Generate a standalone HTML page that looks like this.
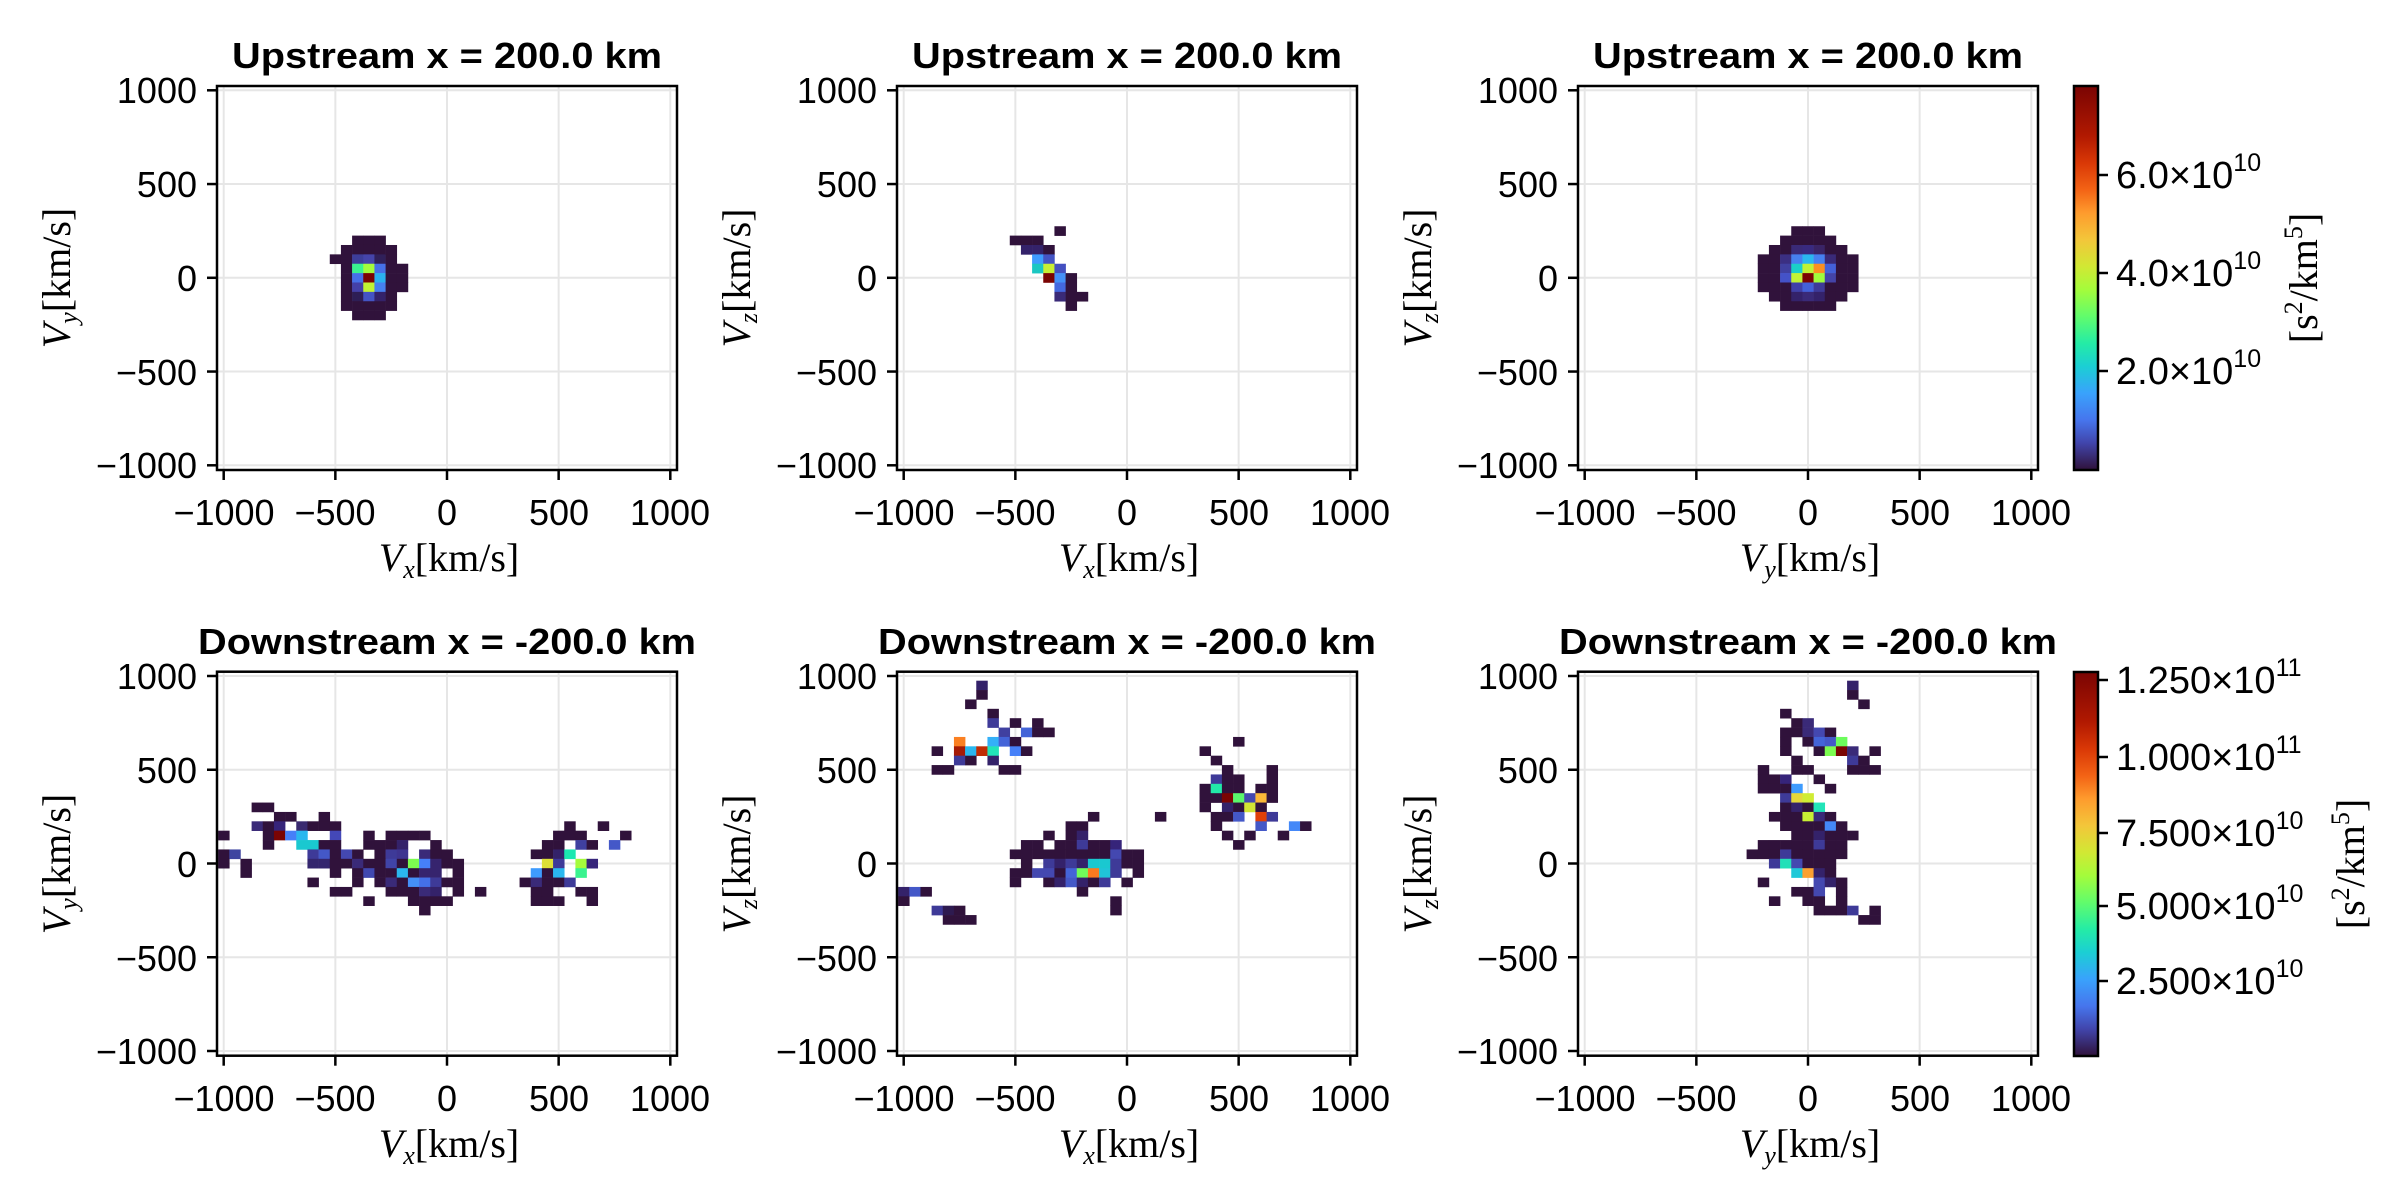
<!DOCTYPE html>
<html><head><meta charset="utf-8"><style>
html,body{margin:0;padding:0;background:#fff;}
svg{display:block;}
.t{font-family:"Liberation Sans",sans-serif;font-weight:bold;font-size:36px;text-anchor:middle;}
.tk{font-family:"Liberation Sans",sans-serif;font-size:36px;}
.yt{text-anchor:end;}
.xt{text-anchor:middle;}
.lb{font-family:"Liberation Serif",serif;font-size:40px;text-anchor:middle;}
.cb{font-family:"Liberation Sans",sans-serif;font-size:38px;}
</style></head><body>
<svg id="s" width="2400" height="1200" viewBox="0 0 2400 1200" xmlns="http://www.w3.org/2000/svg">
<defs>
<linearGradient id="turbo" x1="0" y1="1" x2="0" y2="0">
<stop offset="0" stop-color="#30123b"/><stop offset="0.07" stop-color="#4145ab"/><stop offset="0.13" stop-color="#4675ed"/><stop offset="0.2" stop-color="#39a2fc"/><stop offset="0.27" stop-color="#1bcfd4"/><stop offset="0.33" stop-color="#24eca6"/><stop offset="0.4" stop-color="#61fc6c"/><stop offset="0.47" stop-color="#a4fc3b"/><stop offset="0.53" stop-color="#d1e834"/><stop offset="0.6" stop-color="#f3c63a"/><stop offset="0.67" stop-color="#fe9b2d"/><stop offset="0.73" stop-color="#f36315"/><stop offset="0.8" stop-color="#d93806"/><stop offset="0.87" stop-color="#b11901"/><stop offset="1" stop-color="#7a0403"/>
</linearGradient>
</defs>
<g id="grid"></g>
<g id="cells"></g>
<g id="frames"></g>

<text class="t" x="447" y="68" textLength="430" lengthAdjust="spacingAndGlyphs">Upstream x = 200.0 km</text>
<text class="t" x="1127" y="68" textLength="430" lengthAdjust="spacingAndGlyphs">Upstream x = 200.0 km</text>
<text class="t" x="1808" y="68" textLength="430" lengthAdjust="spacingAndGlyphs">Upstream x = 200.0 km</text>
<text class="t" x="447" y="654" textLength="498" lengthAdjust="spacingAndGlyphs">Downstream x = -200.0 km</text>
<text class="t" x="1127" y="654" textLength="498" lengthAdjust="spacingAndGlyphs">Downstream x = -200.0 km</text>
<text class="t" x="1808" y="654" textLength="498" lengthAdjust="spacingAndGlyphs">Downstream x = -200.0 km</text>

<g class="tk yt">
<text x="197" y="103">1000</text><text x="197" y="197">500</text><text x="197" y="291">0</text><text x="197" y="385">−500</text><text x="197" y="478">−1000</text>
<text x="877" y="103">1000</text><text x="877" y="197">500</text><text x="877" y="291">0</text><text x="877" y="385">−500</text><text x="877" y="478">−1000</text>
<text x="1558" y="103">1000</text><text x="1558" y="197">500</text><text x="1558" y="291">0</text><text x="1558" y="385">−500</text><text x="1558" y="478">−1000</text>
<text x="197" y="689">1000</text><text x="197" y="783">500</text><text x="197" y="877">0</text><text x="197" y="971">−500</text><text x="197" y="1064">−1000</text>
<text x="877" y="689">1000</text><text x="877" y="783">500</text><text x="877" y="877">0</text><text x="877" y="971">−500</text><text x="877" y="1064">−1000</text>
<text x="1558" y="689">1000</text><text x="1558" y="783">500</text><text x="1558" y="877">0</text><text x="1558" y="971">−500</text><text x="1558" y="1064">−1000</text>
</g>
<g class="tk xt">
<text x="224" y="525">−1000</text><text x="335" y="525">−500</text><text x="447" y="525">0</text><text x="559" y="525">500</text><text x="670" y="525">1000</text>
<text x="904" y="525">−1000</text><text x="1015" y="525">−500</text><text x="1127" y="525">0</text><text x="1239" y="525">500</text><text x="1350" y="525">1000</text>
<text x="1585" y="525">−1000</text><text x="1696" y="525">−500</text><text x="1808" y="525">0</text><text x="1920" y="525">500</text><text x="2031" y="525">1000</text>
<text x="224" y="1111">−1000</text><text x="335" y="1111">−500</text><text x="447" y="1111">0</text><text x="559" y="1111">500</text><text x="670" y="1111">1000</text>
<text x="904" y="1111">−1000</text><text x="1015" y="1111">−500</text><text x="1127" y="1111">0</text><text x="1239" y="1111">500</text><text x="1350" y="1111">1000</text>
<text x="1585" y="1111">−1000</text><text x="1696" y="1111">−500</text><text x="1808" y="1111">0</text><text x="1920" y="1111">500</text><text x="2031" y="1111">1000</text>
</g>
<g class="lb">
<text x="449" y="571"><tspan font-style="italic">V</tspan><tspan font-style="italic" font-size="26" dy="7">x</tspan><tspan dy="-7">[km/s]</tspan></text>
<text x="1129" y="571"><tspan font-style="italic">V</tspan><tspan font-style="italic" font-size="26" dy="7">x</tspan><tspan dy="-7">[km/s]</tspan></text>
<text x="1810" y="571"><tspan font-style="italic">V</tspan><tspan font-style="italic" font-size="26" dy="7">y</tspan><tspan dy="-7">[km/s]</tspan></text>
<text x="449" y="1157"><tspan font-style="italic">V</tspan><tspan font-style="italic" font-size="26" dy="7">x</tspan><tspan dy="-7">[km/s]</tspan></text>
<text x="1129" y="1157"><tspan font-style="italic">V</tspan><tspan font-style="italic" font-size="26" dy="7">x</tspan><tspan dy="-7">[km/s]</tspan></text>
<text x="1810" y="1157"><tspan font-style="italic">V</tspan><tspan font-style="italic" font-size="26" dy="7">y</tspan><tspan dy="-7">[km/s]</tspan></text>
<text transform="translate(70,278) rotate(-90)"><tspan font-style="italic">V</tspan><tspan font-style="italic" font-size="26" dy="7">y</tspan><tspan dy="-7">[km/s]</tspan></text>
<text transform="translate(750,278) rotate(-90)"><tspan font-style="italic">V</tspan><tspan font-style="italic" font-size="26" dy="7">z</tspan><tspan dy="-7">[km/s]</tspan></text>
<text transform="translate(1431,278) rotate(-90)"><tspan font-style="italic">V</tspan><tspan font-style="italic" font-size="26" dy="7">z</tspan><tspan dy="-7">[km/s]</tspan></text>
<text transform="translate(70,864) rotate(-90)"><tspan font-style="italic">V</tspan><tspan font-style="italic" font-size="26" dy="7">y</tspan><tspan dy="-7">[km/s]</tspan></text>
<text transform="translate(750,864) rotate(-90)"><tspan font-style="italic">V</tspan><tspan font-style="italic" font-size="26" dy="7">z</tspan><tspan dy="-7">[km/s]</tspan></text>
<text transform="translate(1431,864) rotate(-90)"><tspan font-style="italic">V</tspan><tspan font-style="italic" font-size="26" dy="7">z</tspan><tspan dy="-7">[km/s]</tspan></text>
<text transform="translate(2317,278) rotate(-90)">[s<tspan font-size="26" dy="-15">2</tspan><tspan dy="15">/km</tspan><tspan font-size="26" dy="-15">5</tspan><tspan dy="15">]</tspan></text>
<text transform="translate(2364,864) rotate(-90)">[s<tspan font-size="26" dy="-15">2</tspan><tspan dy="15">/km</tspan><tspan font-size="26" dy="-15">5</tspan><tspan dy="15">]</tspan></text>
</g>

<rect x="2074" y="86" width="24" height="384" fill="url(#turbo)" stroke="#000" stroke-width="2.5"/>
<rect x="2074" y="672" width="24" height="384" fill="url(#turbo)" stroke="#000" stroke-width="2.5"/>
<g stroke="#000" stroke-width="2.5">
<line x1="2098" x2="2108" y1="175" y2="175"/><line x1="2098" x2="2108" y1="273" y2="273"/><line x1="2098" x2="2108" y1="371" y2="371"/>
<line x1="2098" x2="2108" y1="680" y2="680"/><line x1="2098" x2="2108" y1="757" y2="757"/><line x1="2098" x2="2108" y1="833" y2="833"/><line x1="2098" x2="2108" y1="906" y2="906"/><line x1="2098" x2="2108" y1="981" y2="981"/>
</g>
<g class="cb">
<text x="2116" y="188">6.0×10<tspan font-size="25" dy="-17">10</tspan></text>
<text x="2116" y="286">4.0×10<tspan font-size="25" dy="-17">10</tspan></text>
<text x="2116" y="384">2.0×10<tspan font-size="25" dy="-17">10</tspan></text>
<text x="2116" y="693">1.250×10<tspan font-size="25" dy="-17">11</tspan></text>
<text x="2116" y="770">1.000×10<tspan font-size="25" dy="-17">11</tspan></text>
<text x="2116" y="846">7.500×10<tspan font-size="25" dy="-17">10</tspan></text>
<text x="2116" y="919">5.000×10<tspan font-size="25" dy="-17">10</tspan></text>
<text x="2116" y="994">2.500×10<tspan font-size="25" dy="-17">10</tspan></text>
</g>
</svg>
<script>
(function(){
var NS="http://www.w3.org/2000/svg";
var sx=0.2233, sy=0.1875;
var P=[[447,277.8],[1127,277.8],[1808,277.8],[447,863.5],[1127,863.5],[1808,863.5]];
var D="#30123b";
function el(g,tag,a){var e=document.createElementNS(NS,tag);for(var k in a)e.setAttribute(k,a[k]);g.appendChild(e);return e;}
var grid=document.getElementById("grid"),cells=document.getElementById("cells"),fr=document.getElementById("frames");
P.forEach(function(p){
  var x0=p[0],y0=p[1],L=x0-230,T=y0-191.8,W=460,H=384;
  el(grid,"rect",{x:L,y:T,width:W,height:H,fill:"#fff"});
  [-1000,-500,0,500,1000].forEach(function(v){
    var gx=x0+v*sx, gy=y0-v*sy;
    el(grid,"line",{x1:gx,x2:gx,y1:T,y2:T+H,stroke:"#e6e6e6","stroke-width":2});
    el(grid,"line",{x1:L,x2:L+W,y1:gy,y2:gy,stroke:"#e6e6e6","stroke-width":2});
    el(fr,"line",{x1:gx,x2:gx,y1:T+H,y2:T+H+10,stroke:"#000","stroke-width":2.5});
    el(fr,"line",{x1:L-10,x2:L,y1:gy,y2:gy,stroke:"#000","stroke-width":2.5});
  });
  el(fr,"rect",{x:L,y:T,width:W,height:H,fill:"none",stroke:"#000","stroke-width":2.5});
});
var data=[
"-500,100;-450,150;-450,100;-450,50;-450,0;-450,-50;-450,-100;-450,-150;"+
"-400,200;-400,150;-400,100,#3d3e9a;-400,50,#3af38f;-400,0,#4670e8;-400,-50,#4440a8;-400,-100,#2e1e55;-400,-150;-400,-200;"+
"-350,200;-350,150;-350,100,#4544aa;-350,50,#a4fc3c;-350,0,#7a0403;-350,-50,#c1f334;-350,-100,#4454c4;-350,-150;-350,-200;"+
"-300,200;-300,150;-300,100,#30205a;-300,50,#4670e8;-300,0,#2ab0f0;-300,-50,#4680f0;-300,-100,#34226a;-300,-150;-300,-200;"+
"-250,150;-250,100;-250,50;-250,0;-250,-50;-250,-100;-250,-150;-200,50;-200,0;-200,-50",
"-300,250;-500,200;-450,200;-400,200;-450,150,#34226a;-400,150,#34226a;-350,150;-400,100,#3e9bfe;-350,100,#4454c4;"+
"-400,50,#1ac7c2;-350,50,#c8ef34;-300,50,#4450c0;-350,0,#7a0403;-300,0,#4490f8;-250,0;-300,-50,#4468e0;-250,-50;"+
"-300,-100,#3a2a78;-250,-100;-200,-100;-250,-150",
"-50,250;0,250;50,250;-100,200;-50,200;0,200;50,200;100,200;"+
"-150,150;-100,150;-50,150,#3a2a78;0,150,#392a80;50,150,#3a2466;100,150;150,150;"+
"-200,100;-150,100;-100,100,#3b2f82;-50,100,#4680f0;0,100,#2ab7ef;50,100,#4680f0;100,100,#3a2a78;150,100;200,100;"+
"-200,50;-150,50;-100,50,#4040a0;-50,50,#1ad0c8;0,50,#c1f334;50,50,#fb9020;100,50,#4460d8;150,50;200,50;"+
"-200,0;-150,0;-100,0,#4452c8;-50,0,#c1f334;0,0,#7a0403;50,0,#a0fc3c;100,0,#4444a8;150,0;200,0;"+
"-200,-50;-150,-50;-100,-50;-50,-50,#4040a8;0,-50,#4460d8;50,-50,#3e3a98;100,-50;150,-50;200,-50;"+
"-150,-100;-100,-100;-50,-100,#34226a;0,-100,#3a2a78;50,-100,#34226a;100,-100;150,-100;"+
"-100,-150;-50,-150;0,-150;50,-150;100,-150",
"-850,300;-800,300;-750,250;-700,250;-550,250;"+
"-850,200,#3a2a78;-800,200;-750,200,#36247a;-650,200,#3a2a70;-600,200;-550,200;-500,200;"+
"-1000,150;-800,150;-750,150,#7a0403;-700,150,#4680f8;-650,150,#2ab7ef;-500,150,#4448b8;-350,150;-250,150;-200,150;-150,150;-100,150;"+
"-800,100;-650,100,#1ac8d0;-600,100,#1ac8d0;-550,100;-500,100;-350,100;-300,100;-250,100;-200,100,#34226a;-50,100;"+
"-1000,50;-950,50,#3e44a0;-600,50,#3e3a98;-550,50,#4458c8;-500,50;-450,50,#4448b0;-400,50;-300,50;-250,50,#3e3a98;-200,50,#3e3490;-100,50,#3a2a78;-50,50;0,50;"+
"-1000,0;-900,0;-600,0,#34266e;-550,0,#34266e;-500,0;-450,0;-400,0,#3a2a78;-350,0;-300,0;-250,0,#4044a8;-200,0;-150,0,#7cfc50;-100,0,#4680f8;-50,0,#36246e;0,0;50,0;"+
"-900,-50;-500,-50;-400,-50;-350,-50,#4048b0;-300,-50;-250,-50;-200,-50,#2ab7ef;-150,-50;-100,-50,#36246e;-50,-50,#36246e;50,-50;"+
"-600,-100;-400,-100;-300,-100;-250,-100,#3a2a78;-200,-100;-150,-100,#4490f8;-100,-100,#4470e8;-50,-100,#3e3a98;0,-100;50,-100;"+
"-500,-150;-450,-150;-250,-150;-200,-150;-150,-150;-100,-150,#3a2a78;-50,-150,#34226a;50,-150;150,-150;"+
"-350,-200;-150,-200;-100,-200;-50,-200;0,-200;-100,-250;"+
"550,200;700,200;500,150;550,150;600,150;800,150;450,100;500,100;600,100,#4040a0;650,100;750,100,#4458c8;"+
"400,50;450,50;500,50,#34226a;550,50,#1ae8b0;450,0,#dde037;500,0,#3e3a98;600,0,#a4fc3c;650,0,#36247a;"+
"400,-50,#3e9bfe;450,-50;500,-50,#2ab7ef;600,-50,#3af38f;350,-100;400,-100,#3a2a78;450,-100;500,-100;550,-100,#3e3a98;"+
"400,-150;450,-150;600,-150;650,-150;400,-200;450,-200;500,-200;650,-200",
"-650,950,#34226a;-650,900;-700,850;-600,800;-600,750,#3e3a98;-500,750;-400,750;-550,700,#4040a0;-450,700,#4464d8;-400,700;-350,700;"+
"-750,650,#fb8022;-600,650,#34b0f8;-550,650,#4464d8;-500,650;-850,600;-750,600,#a51a05;-700,600,#2ab7ef;-650,600,#c02c04;-600,600,#22e4b8;-500,600,#4680f8;-450,600;"+
"-750,550,#3e3a98;-700,550;-600,550,#34226a;-850,500;-800,500;-550,500;-500,500;"+
"-1000,-150,#34226a;-950,-150,#4458c8;-900,-150;-1000,-200;-850,-250,#3e3a98;-800,-250,#2e1a50;-750,-250;-800,-300;-750,-300;-700,-300;"+
"-150,250;150,250;-250,200;-200,200;-350,150;-250,150;-200,150,#34226a;"+
"-450,100;-400,100;-300,100;-250,100;-200,100,#3e3a98;-150,100;-100,100;-50,100,#36247a;"+
"-500,50;-450,50;-400,50;-350,50;-300,50;-250,50;-200,50;-150,50;-100,50;-50,50,#4448b0;0,50;50,50;"+
"-450,0;-350,0,#3e3a98;-300,0,#34226a;-250,0,#3e3a98;-200,0,#34226a;-150,0,#1ac8d0;-100,0,#1ac8d0;-50,0,#3e3a98;0,0;50,0;"+
"-500,-50;-450,-50;-400,-50,#4448b0;-350,-50,#4448b0;-300,-50;-250,-50,#4464d8;-200,-50,#70fc5a;-150,-50,#fb7a20;-100,-50,#20c4d8;-50,-50,#3e3a98;50,-50;"+
"-500,-100;-350,-100;-300,-100,#34226a;-250,-100,#4458c8;-200,-100,#34226a;-150,-100;-100,-100,#3e3a98;0,-100;"+
"-200,-150;-50,-200;-50,-250;"+
"500,650;350,600;400,550;450,500;650,500;400,450,#3e3a98;450,450;500,450;650,450;"+
"350,400;400,400,#22e8a8;450,400;500,400;600,400;650,400;"+
"350,350;400,350;450,350,#7a0403;500,350,#5af86c;550,350,#4448b0;600,350,#fbb838;650,350;"+
"350,300;450,300,#34226a;500,300;550,300,#d2e534;600,300;"+
"400,250;450,250;500,250,#4458c8;600,250,#e04008;650,250,#3e3a98;"+
"400,200;600,200,#4458c8;750,200,#4488f8;800,200;450,150;550,150;700,150;500,100",
"200,950,#34226a;200,900;250,850;-100,800;-50,750;0,750,#3a2a78;"+
"-100,700;-50,700;0,700,#3a2a78;50,700,#4448b0;100,700;"+
"-100,650;0,650;50,650,#4464d8;100,650,#4458c8;150,650,#6cfc5c;"+
"-100,600;50,600;100,600,#7cfc50;150,600,#7a0403;200,600,#3a2a78;300,600;"+
"-50,550;200,550,#3e3a98;250,550;-200,500;-50,500;0,500;200,500;250,500;300,500;"+
"-200,450;-150,450;-100,450,#36247a;50,450;-200,400;-150,400;-100,400;-50,400,#3e9bfe;100,400;"+
"-100,350,#3e3a98;-50,350,#e4d83a;0,350,#d0ec34;-100,300;-50,300,#34226a;0,300;50,300,#22e4b8;"+
"-150,250;-100,250;-50,250;0,250,#c8ef34;50,250,#3a2a78;100,250;"+
"-100,200;-50,200;0,200;50,200;100,200,#4488f8;150,200;"+
"-50,150;0,150;50,150,#34226a;100,150;150,150;200,150;"+
"-200,100;-150,100;-100,100;-50,100;0,100;50,100,#3e3a98;100,100;150,100;"+
"-250,50;-200,50;-150,50;-100,50,#3e3a98;-50,50;0,50;50,50;100,50;150,50;"+
"-150,0,#3e3a98;-100,0,#22e0b8;-50,0,#4448b0;0,0;50,0;100,0;"+
"-50,-50,#20c8d8;0,-50,#fba030;50,-50,#34226a;100,-50;"+
"-200,-100;50,-100,#4448b0;100,-100,#34226a;150,-100;"+
"-50,-150;0,-150;50,-150,#4448b0;150,-150;"+
"-150,-200;0,-200;50,-200;150,-200;50,-250;100,-250;150,-250;200,-250,#3e3a98;300,-250;250,-300;300,-300"
];
data.forEach(function(s,i){
  var x0=P[i][0],y0=P[i][1];
  s.split(";").forEach(function(c){
    var a=c.split(","); if(a.length<2)return;
    var x=+a[0],y=+a[1],col=a[2]||D;
    el(cells,"rect",{x:(x0+(x-25)*sx).toFixed(2),y:(y0-(y+25)*sy).toFixed(2),width:(50*sx+0.3).toFixed(2),height:(50*sy+0.3).toFixed(2),fill:col});
  });
});
})();
</script>
</body></html>
